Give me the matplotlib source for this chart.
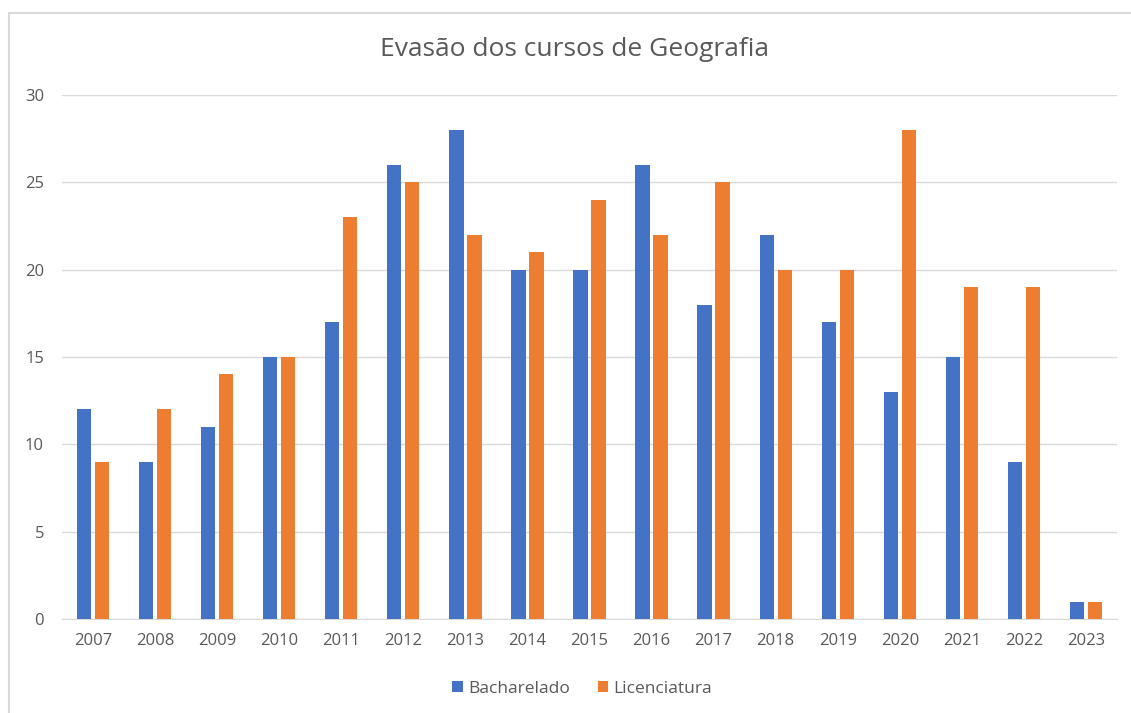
import numpy as np
import matplotlib.pyplot as plt
from matplotlib.lines import Line2D

# Data
anos = ["2007", "2008", "2009", "2010", "2011", "2012", "2013", "2014", "2015",
        "2016", "2017", "2018", "2019", "2020", "2021", "2022", "2023"]
bacharelado = [12, 9, 11, 15, 17, 26, 28, 20, 20, 26, 18, 22, 17, 13, 15, 9, 1]
licenciatura = [9, 12, 14, 15, 23, 25, 22, 21, 24, 22, 25, 20, 20, 28, 19, 19, 1]

azul = "#4472C4"
laranja = "#ED7D31"
cinza = "#595959"

plt.rcParams['font.family'] = ['Open Sans', 'DejaVu Sans']

W, H = 1131, 713
fig = plt.figure(figsize=(W / 100, H / 100), dpi=100)
ax = fig.add_axes([62 / W, 1 - 619 / H, (1117 - 62) / W, (619 - 95) / H])

x = np.arange(len(anos))
largura = 0.23
ax.bar(x - 0.145, bacharelado, largura, color=azul, label="Bacharelado", zorder=3)
ax.bar(x + 0.145, licenciatura, largura, color=laranja, label="Licenciatura", zorder=3)

ax.set_xlim(-0.5, len(anos) - 0.5)
ax.set_ylim(0, 30)
ax.set_yticks(range(0, 31, 5))
ax.set_xticks(x)
ax.set_xticklabels(anos)
ax.yaxis.grid(True, color="#D9D9D9", linewidth=1, zorder=0)
for s in ["top", "right", "left"]:
    ax.spines[s].set_visible(False)
ax.spines["bottom"].set_color("#D9D9D9")
ax.tick_params(axis="both", length=0, colors=cinza, labelsize=12)
ax.tick_params(axis="x", pad=10)
ax.tick_params(axis="y", pad=13)

fig.text(575 / W, 1 - 50 / H, "Evasão dos cursos de Geografia", ha="center", va="center",
         fontsize=19, color=cinza)

fig.legend(loc="center", bbox_to_anchor=(582 / W, 1 - 689 / H), ncol=2, frameon=False,
           fontsize=12.5, labelcolor=cinza, handlelength=0.6, handleheight=0.6,
           handletextpad=0.3, columnspacing=1.6)

# chart border
borda = "#D9D9D9"
fig.add_artist(Line2D([9 / W, 9 / W], [0, 1 - 13 / H], color=borda, lw=1.5))
fig.add_artist(Line2D([9 / W, 1], [1 - 13 / H, 1 - 13 / H], color=borda, lw=1.5))

fig.savefig("out.png", dpi=100)
